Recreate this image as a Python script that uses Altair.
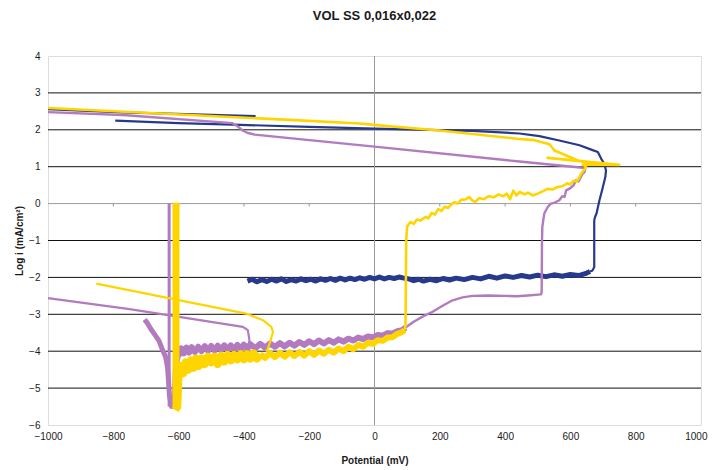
import altair as alt
import pandas as pd

TITLE = "VOL SS 0,016x0,022"
X_TITLE = "Potential (mV)"
Y_TITLE = "Log i (mA/cm²)"
X_TICKS = [-1000, -800, -600, -400, -200, 0, 200, 400, 600, 800, 1000]
Y_TICKS = [-6, -5, -4, -3, -2, -1, 0, 1, 2, 3, 4]
GRID_Y = [-5, -4, -3, -2, -1, 1, 2, 3]
AXIS_TICK_X = [-800, -600, -400, -200, 200, 400, 600, 800]

NAVY, PURPLE, YELLOW = "#27398C", "#B27ABF", "#FFD500"

# ---------------- navy series ----------------
N_UP_X = [-1000, -771, -364]
N_UP_Y = [2.56, 2.47, 2.37]
N_BAND_X = [-389, -375, -360, -345, -330, -315, -300, -285, -270, -255, -240, -225, -210, -195, -180,
            -165, -150, -135, -120, -105, -90, -75, -60, -45, -30, -15, 0, 15, 30, 45, 60, 75, 90, 105,
            120, 135, 150, 170, 190, 210, 230, 250, 275, 300, 325, 350, 375, 400, 425, 450, 475, 500,
            525, 550, 575, 600, 625, 645, 660]
N_BAND_Y = [-2.10, -2.05, -2.12, -2.06, -2.11, -2.05, -2.10, -2.04, -2.11, -2.06, -2.10, -2.04, -2.09,
            -2.05, -2.10, -2.04, -2.08, -2.03, -2.08, -2.02, -2.07, -2.02, -2.06, -2.01, -2.05, -2.00,
            -2.04, -1.99, -2.04, -2.00, -2.03, -1.99, -2.02, -2.04, -2.09, -2.05, -2.10, -2.05, -2.09,
            -2.03, -2.07, -2.02, -2.06, -2.00, -2.04, -1.97, -2.02, -1.96, -2.00, -1.95, -1.99, -1.94,
            -1.98, -1.93, -1.97, -1.92, -1.95, -1.90, -1.84]
N_MAIN_X = [660, 668, 673, 673, 676, 680, 689, 697, 707, 709, 704, 694, 684, 668, 628, 566, 505, 444,
            300, 100, 0, -200, -435, -600, -794]
N_MAIN_Y = [-1.84, -1.81, -1.72, -0.45, -0.35, -0.27, 0.09, 0.36, 0.72, 0.90, 1.08, 1.22, 1.40, 1.45,
            1.58, 1.71, 1.83, 1.90, 1.97, 2.01, 2.03, 2.08, 2.14, 2.18, 2.25]

# ---------------- purple series ----------------
P_LEAD_X = [-1000, -750, -403, -388, -383, -385]
P_LEAD_Y = [-2.56, -2.86, -3.34, -3.43, -3.70, -3.84]
P_SPIKE_X = [-629, -629]
P_SPIKE_Y = [0.0, -5.5]
P_TAIL_X = [-704, -695, -685, -673, -660, -649, -640, -634, -628, -622, -614, -610, -600]
P_TAIL_Y = [-3.14, -3.25, -3.40, -3.55, -3.72, -3.97, -4.15, -4.42, -5.20, -5.50, -5.50, -4.50, -4.10]
P_BAND_X = [-600, -592, -584, -576, -568, -560, -550, -540, -530, -520, -510, -500, -490, -480, -470,
            -460, -450, -440, -430, -420, -410, -400, -390, -380, -365, -350, -335, -320, -305, -290,
            -275, -260, -245, -230, -215, -200, -185, -170, -155, -140, -125, -110, -95, -80, -65, -50,
            -35, -20, -5, 10, 25, 40, 55, 70, 85, 95]
P_BAND_Y = [-4.12, -3.92, -4.06, -3.90, -4.04, -3.89, -4.02, -3.88, -4.00, -3.86, -3.99, -3.86, -3.98,
            -3.85, -3.97, -3.84, -3.96, -3.84, -3.95, -3.83, -3.94, -3.82, -3.93, -3.81, -3.92, -3.80,
            -3.90, -3.79, -3.88, -3.78, -3.87, -3.77, -3.85, -3.75, -3.83, -3.73, -3.81, -3.71, -3.79,
            -3.70, -3.77, -3.68, -3.74, -3.66, -3.71, -3.63, -3.67, -3.60, -3.63, -3.56, -3.58, -3.51,
            -3.52, -3.46, -3.43, -3.36]
P_MAIN_X = [95, 120, 150, 178, 210, 239, 270, 300, 350, 400, 435, 470, 510, 512, 513, 514, 520, 530,
            540, 550, 566, 575, 582, 587, 600, 610, 617, 625, 632, 637, 643, 645, 638, 444, 15, -367,
            -390, -404, -420, -435, -771, -1000]
P_MAIN_Y = [-3.36, -3.20, -3.05, -2.93, -2.76, -2.62, -2.54, -2.50, -2.49, -2.50, -2.51, -2.49, -2.46,
            -2.40, -1.00, -0.63, -0.27, -0.10, 0.00, 0.02, 0.09, 0.20, 0.18, 0.36, 0.42, 0.50, 0.63,
            0.60, 0.72, 0.81, 0.85, 0.95, 0.97, 1.14, 1.53, 1.87, 1.92, 1.98, 2.10, 2.18, 2.40, 2.48]

# ---------------- yellow series ----------------
Y_LEAD_X = [-852, -393, -342, -316, -311, -321, -331]
Y_LEAD_Y = [-2.17, -2.98, -3.16, -3.34, -3.48, -3.79, -4.02]
Y_SPIKE_X = [-608, -608]
Y_SPIKE_Y = [0.02, -5.55]
Y_BAND1_X = [-610, -604, -600, -594, -586, -578, -570, -562, -554, -546, -538, -530, -520, -510, -500,
             -490, -480, -470, -460, -450, -440, -430, -420, -410, -400, -390, -380, -370, -360, -350]
Y_BAND1_Y = [-5.60, -5.50, -4.60, -4.40, -4.60, -4.30, -4.50, -4.25, -4.45, -4.20, -4.40, -4.20, -4.35,
             -4.15, -4.30, -4.15, -4.35, -4.12, -4.28, -4.10, -4.25, -4.10, -4.22, -4.08, -4.22, -4.08,
             -4.20, -4.06, -4.20, -4.08]
Y_BAND2_X = [-350, -335, -320, -305, -290, -275, -260, -245, -230, -215, -200, -185, -170, -155, -140,
             -125, -110, -95, -80, -65, -50, -35, -20, -5, 10, 25, 40, 55, 70, 85, 92]
Y_BAND2_Y = [-4.08, -4.18, -4.05, -4.16, -4.04, -4.15, -4.03, -4.13, -4.02, -4.12, -4.00, -4.10, -3.98,
             -4.07, -3.96, -4.04, -3.93, -4.00, -3.88, -3.95, -3.83, -3.88, -3.77, -3.80, -3.70, -3.72,
             -3.63, -3.62, -3.53, -3.48, -3.43]
Y_MAIN_X = [92, 95, 97, 100, 110, 120, 130, 140, 157, 165, 175, 185, 195, 205, 215, 225, 235, 245, 255,
            265, 280, 290, 300, 310, 320, 335, 350, 365, 380, 395, 405, 415, 425, 435, 445, 460, 470,
            485, 500, 515, 530, 545, 560, 575, 590, 600, 610, 620, 628, 633, 645, 648, 638, 750, 530,
            700, 638, 618, 575, 551, 536, 490, 444, 199, 15, -46, -260, -1000]
Y_MAIN_Y = [-3.43, -3.30, -1.00, -0.62, -0.50, -0.55, -0.43, -0.46, -0.36, -0.40, -0.25, -0.30, -0.15,
            -0.20, -0.08, -0.12, -0.02, 0.04, 0.00, 0.10, 0.12, 0.18, 0.08, 0.05, 0.15, 0.12, 0.20, 0.17,
            0.25, 0.20, 0.27, 0.12, 0.35, 0.22, 0.32, 0.25, 0.30, 0.22, 0.27, 0.33, 0.40, 0.38, 0.45,
            0.47, 0.55, 0.52, 0.62, 0.60, 0.72, 0.81, 0.95, 0.99, 1.06, 1.05, 1.24, 1.09, 1.13, 1.19,
            1.35, 1.44, 1.61, 1.72, 1.75, 1.98, 2.12, 2.17, 2.27, 2.59]

rows = []


def add(series, seg, xs, ys, w):
    for i, (x, y) in enumerate(zip(xs, ys)):
        rows.append(dict(series=series, seg=seg, i=i, x=x, y=y, w=w))


add("navy", "n_up", N_UP_X, N_UP_Y, 2.2)
add("navy", "n_band", N_BAND_X, N_BAND_Y, 5)
add("navy", "n_main", N_MAIN_X, N_MAIN_Y, 2.2)
add("purple", "p_lead", P_LEAD_X, P_LEAD_Y, 2.2)
add("purple", "p_spike", P_SPIKE_X, P_SPIKE_Y, 3)
add("purple", "p_tail", P_TAIL_X, P_TAIL_Y, 5)
add("purple", "p_band", P_BAND_X, P_BAND_Y, 6)
add("purple", "p_main", P_MAIN_X, P_MAIN_Y, 2.4)
add("yellow", "y_lead", Y_LEAD_X, Y_LEAD_Y, 2.2)
add("yellow", "y_spike", Y_SPIKE_X, Y_SPIKE_Y, 7)
add("yellow", "y_band1", Y_BAND1_X, Y_BAND1_Y, 8)
add("yellow", "y_band2", Y_BAND2_X, Y_BAND2_Y, 6)
add("yellow", "y_main", Y_MAIN_X, Y_MAIN_Y, 2.6)
df = pd.DataFrame(rows)

FONT = "Liberation Sans"
xscale = alt.Scale(domain=[-1000, 1000], nice=False, zero=False)
yscale = alt.Scale(domain=[-6, 4], nice=False, zero=False)
xaxis = alt.Axis(values=X_TICKS, format="d", title=X_TITLE, grid=False, domain=False, ticks=False,
                 labelPadding=6, labelFontSize=10, labelColor="#1a1a1a", labelFont=FONT,
                 labelOverlap=False, titleFont=FONT, titleFontSize=10, titleFontWeight="bold",
                 titleColor="#1a1a1a", titlePadding=14, labelFlush=False,
                 labelAlign=alt.condition("datum.value >= 1000", alt.value("right"), alt.value("center")),
                 labelOffset=alt.condition("datum.value >= 1000", alt.value(6), alt.value(0)))
yaxis = alt.Axis(values=Y_TICKS, format="d", title=Y_TITLE, grid=False, domain=False, ticks=False,
                 labelPadding=8, labelFontSize=10, labelColor="#1a1a1a", labelFont=FONT,
                 labelOverlap=False, titleFont=FONT, titleFontSize=10, titleFontWeight="bold",
                 titleColor="#1a1a1a", titlePadding=4, labelFlush=False)

grid = alt.Chart(pd.DataFrame({"gy": GRID_Y})).mark_rule(color="#111111", strokeWidth=1).encode(
    y=alt.Y("gy:Q", scale=yscale, axis=yaxis)
)
zero_h = alt.Chart(pd.DataFrame({"zy": [0]})).mark_rule(color="#9a9a9a", strokeWidth=1).encode(
    y=alt.Y("zy:Q", scale=yscale, axis=yaxis)
)
zero_v = alt.Chart(pd.DataFrame({"zx": [0]})).mark_rule(color="#9a9a9a", strokeWidth=1).encode(
    x=alt.X("zx:Q", scale=xscale, axis=xaxis)
)
ticks_df = pd.DataFrame({"tx": AXIS_TICK_X, "t0": [0] * len(AXIS_TICK_X), "t1": [-0.08] * len(AXIS_TICK_X)})
ticks = alt.Chart(ticks_df).mark_rule(color="#9a9a9a", strokeWidth=1).encode(
    x=alt.X("tx:Q", scale=xscale, axis=xaxis), y=alt.Y("t0:Q", scale=yscale, axis=yaxis), y2="t1:Q"
)


def series_layer(name, color):
    return alt.Chart(df[df.series == name]).mark_line(color=color, strokeJoin="round", strokeCap="butt").encode(
        x=alt.X("x:Q", scale=xscale, axis=xaxis),
        y=alt.Y("y:Q", scale=yscale, axis=yaxis),
        detail="seg:N",
        order="i:Q",
        strokeWidth=alt.StrokeWidth("w:Q", scale=None),
    )


chart = alt.layer(
    grid, zero_h, zero_v, ticks,
    series_layer("navy", NAVY),
    series_layer("purple", PURPLE),
    series_layer("yellow", YELLOW),
).properties(
    width=653, height=369,
    autosize="none",
    padding={"left": 40, "top": 48, "right": 7, "bottom": 44},
    title=alt.TitleParams(TITLE, font=FONT, fontSize=13, fontWeight="bold", color="#1a1a1a",
                          anchor="middle", frame="group", offset=28),
).configure_view(
    fill="#C8C9CB", stroke="#8f8f8f", strokeWidth=1
).configure(background="white")

chart.save("out.html", embed_options={"renderer": "svg", "actions": False})
